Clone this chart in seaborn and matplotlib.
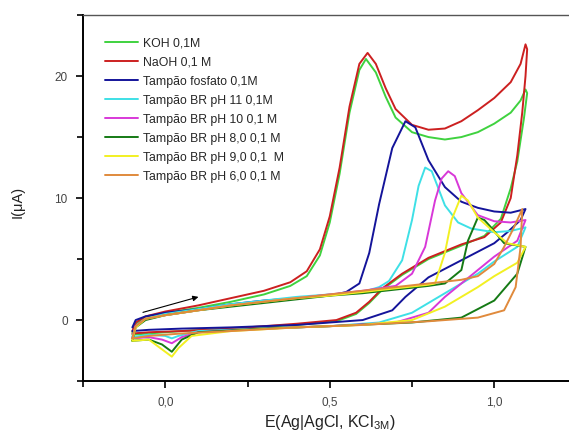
import numpy as np
import pandas as pd
import matplotlib
matplotlib.use("Agg")
import matplotlib.pyplot as plt
from matplotlib.ticker import MultipleLocator, FuncFormatter
import seaborn as sns

# cyclic voltammograms: forward scan then reverse scan
koh_E = [-0.10, -0.09, -0.06, 0.0, 0.1, 0.2, 0.3, 0.38, 0.43, 0.47, 0.50, 0.53, 0.56, 0.59, 0.61,
         0.64, 0.67, 0.70, 0.75, 0.80, 0.85, 0.90, 0.95, 1.00, 1.05, 1.08, 1.095, 1.10,
         1.09, 1.07, 1.05, 1.02, 0.97, 0.90, 0.80, 0.72, 0.66, 0.62, 0.58, 0.52, 0.4, 0.2, 0.05, -0.05, -0.10]
koh_I = [-1.0, -0.3, 0.2, 0.6, 1.0, 1.5, 2.1, 2.8, 3.6, 5.3, 8.0, 12.0, 17.0, 20.5, 21.4,
         20.3, 18.3, 16.6, 15.4, 15.0, 14.8, 15.0, 15.4, 16.1, 17.0, 18.0, 18.9, 18.6,
         16.5, 13.0, 10.8, 8.3, 6.9, 6.1, 5.0, 3.7, 2.5, 1.4, 0.5, -0.1, -0.4, -0.7, -0.9, -1.1, -1.2]

naoh_E = [-0.10, -0.09, -0.06, 0.0, 0.1, 0.2, 0.3, 0.38, 0.43, 0.47, 0.50, 0.53, 0.56, 0.59, 0.615,
          0.64, 0.67, 0.70, 0.75, 0.80, 0.85, 0.90, 0.95, 1.00, 1.05, 1.08, 1.095, 1.10,
          1.095, 1.085, 1.07, 1.05, 1.02, 0.97, 0.90, 0.80, 0.72, 0.66, 0.62, 0.58, 0.52, 0.4, 0.2, 0.05, -0.05, -0.10]
naoh_I = [-0.9, -0.2, 0.3, 0.7, 1.2, 1.8, 2.4, 3.1, 4.0, 5.8, 8.5, 12.5, 17.5, 21.0, 21.9,
          21.0, 19.0, 17.3, 16.0, 15.6, 15.7, 16.3, 17.2, 18.2, 19.5, 21.0, 22.6, 22.2,
          20.0, 17.0, 13.5, 10.0, 8.0, 6.8, 6.2, 5.1, 3.8, 2.6, 1.5, 0.6, 0.0, -0.3, -0.7, -0.9, -1.0, -1.1]

fosfato_E = [-0.10, -0.09, -0.06, 0.0, 0.1, 0.2, 0.3, 0.4, 0.5, 0.55, 0.59, 0.62, 0.65, 0.69, 0.73,
             0.76, 0.80, 0.85, 0.90, 0.95, 1.00, 1.05, 1.095,
             1.08, 1.04, 1.00, 0.90, 0.80, 0.73, 0.69, 0.60, 0.4, 0.2, 0.05, -0.05, -0.10]
fosfato_I = [-0.6, 0.0, 0.3, 0.6, 0.9, 1.3, 1.6, 1.8, 2.0, 2.3, 3.0, 5.5, 9.5, 14.1, 16.3,
             15.8, 13.1, 10.9, 9.7, 9.2, 8.9, 8.8, 9.1,
             8.2, 7.2, 6.3, 4.9, 3.5, 1.9, 0.8, 0.0, -0.4, -0.6, -0.7, -0.8, -0.9]

ph11_E = [-0.10, -0.09, -0.06, 0.0, 0.1, 0.2, 0.3, 0.4, 0.5, 0.6, 0.65, 0.68, 0.72, 0.75, 0.77, 0.79,
          0.81, 0.85, 0.89, 0.93, 1.00, 1.05, 1.095,
          1.07, 1.00, 0.95, 0.85, 0.75, 0.65, 0.5, 0.3, 0.1, 0.04, 0.02, 0.0, -0.05, -0.10]
ph11_I = [-1.4, -0.5, 0.1, 0.5, 0.9, 1.3, 1.6, 1.9, 2.1, 2.3, 2.7, 3.2, 4.9, 8.2, 11.0, 12.5,
          12.2, 9.4, 8.0, 7.5, 7.2, 7.3, 7.6,
          6.0, 4.8, 3.8, 2.2, 0.6, -0.2, -0.5, -0.7, -0.9, -1.3, -1.5, -1.3, -1.2, -1.4]

ph10_E = [-0.10, -0.09, -0.06, 0.0, 0.1, 0.2, 0.3, 0.4, 0.5, 0.6, 0.7, 0.75, 0.79, 0.82, 0.84, 0.86,
          0.88, 0.90, 0.95, 1.00, 1.05, 1.095,
          1.07, 1.00, 0.95, 0.85, 0.80, 0.7, 0.5, 0.3, 0.1, 0.05, 0.02, -0.01, -0.05, -0.10]
ph10_I = [-1.5, -0.5, 0.1, 0.4, 0.8, 1.2, 1.5, 1.8, 2.1, 2.4, 2.8, 3.8, 6.0, 9.8, 11.6, 12.2,
          11.8, 10.4, 8.6, 8.1, 8.0, 8.2,
          6.5, 5.2, 4.1, 1.9, 0.6, -0.2, -0.5, -0.7, -1.0, -1.4, -1.9, -1.6, -1.4, -1.5]

ph8_E = [-0.10, -0.09, -0.06, 0.0, 0.1, 0.2, 0.3, 0.4, 0.5, 0.6, 0.7, 0.8, 0.85, 0.90, 0.92, 0.95,
         0.97, 0.99, 1.03, 1.095,
         1.07, 1.00, 0.90, 0.75, 0.5, 0.3, 0.1, 0.05, 0.02, -0.01, -0.05, -0.10]
ph8_I = [-1.7, -0.6, 0.0, 0.4, 0.8, 1.1, 1.4, 1.7, 2.0, 2.2, 2.5, 2.8, 3.0, 4.1, 6.5, 8.4,
         8.2, 7.6, 6.3, 6.0,
         3.8, 1.6, 0.2, -0.2, -0.5, -0.7, -1.0, -1.6, -2.6, -2.0, -1.6, -1.7]

ph9_E = [-0.10, -0.09, -0.06, 0.0, 0.1, 0.2, 0.3, 0.4, 0.5, 0.6, 0.7, 0.8, 0.82, 0.85, 0.87, 0.90,
         0.92, 0.95, 1.00, 1.04, 1.095,
         1.07, 1.00, 0.95, 0.85, 0.75, 0.6, 0.4, 0.2, 0.08, 0.04, 0.02, -0.01, -0.05, -0.10]
ph9_I = [-1.6, -0.6, 0.1, 0.4, 0.8, 1.2, 1.5, 1.8, 2.0, 2.3, 2.6, 2.9, 3.0, 5.5, 8.2, 10.2,
         9.8, 8.4, 7.2, 6.3, 6.0,
         4.7, 3.6, 2.7, 1.1, 0.0, -0.4, -0.6, -0.9, -1.3, -2.3, -3.0, -2.4, -1.6, -1.7]

ph6_E = [-0.10, -0.09, -0.06, 0.0, 0.1, 0.2, 0.3, 0.4, 0.5, 0.6, 0.7, 0.8, 0.9, 0.95, 1.00, 1.03,
         1.06, 1.085,
         1.08, 1.065, 1.03, 0.95, 0.8, 0.6, 0.4, 0.2, 0.05, -0.05, -0.10]
ph6_I = [-1.5, -0.5, 0.1, 0.4, 0.8, 1.2, 1.5, 1.8, 2.1, 2.4, 2.7, 3.0, 3.3, 3.6, 4.6, 6.0,
         7.6, 9.1,
         6.0, 2.7, 0.8, 0.2, -0.1, -0.4, -0.6, -0.9, -1.1, -1.3, -1.5]

labels = ["KOH 0,1M", "NaOH 0,1 M", "Tampão fosfato 0,1M", "Tampão BR pH 11 0,1M",
          "Tampão BR pH 10 0,1 M", "Tampão BR pH 8,0 0,1 M", "Tampão BR pH 9,0 0,1  M",
          "Tampão BR pH 6,0 0,1 M"]
colors = ["#3fd23f", "#cc2020", "#14149a", "#3ee0e6", "#d838d8", "#157a15", "#f2f022", "#e08a3c"]

curves = [(koh_E, koh_I), (naoh_E, naoh_I), (fosfato_E, fosfato_I), (ph11_E, ph11_I),
          (ph10_E, ph10_I), (ph8_E, ph8_I), (ph9_E, ph9_I), (ph6_E, ph6_I)]

frames = []
for lab, (E, I) in zip(labels, curves):
    frames.append(pd.DataFrame({"E": E, "I": I, "sol": lab, "step": np.arange(len(E))}))
df = pd.concat(frames, ignore_index=True)

sns.set_style("ticks")
plt.rcParams["font.family"] = ["Liberation Sans", "DejaVu Sans"]

fig = plt.figure(figsize=(5.69, 4.38), dpi=100)
ax = fig.add_axes([0.1459, 0.130, 0.8673, 0.8356])

sns.lineplot(data=df, x="E", y="I", hue="sol", hue_order=labels, palette=colors,
             sort=False, estimator=None, linewidth=1.4, ax=ax)

# scan direction arrow
ax.annotate("", xy=(0.109, 1.96), xytext=(-0.076, 0.57),
            arrowprops=dict(arrowstyle="-|>", color="black", lw=0.8, mutation_scale=8))

ax.set_xlim(-0.25, 1.25)
ax.set_ylim(-5, 25)
ax.xaxis.set_major_locator(MultipleLocator(0.5))
ax.xaxis.set_minor_locator(MultipleLocator(0.25))
ax.yaxis.set_major_locator(MultipleLocator(10))
ax.yaxis.set_minor_locator(MultipleLocator(5))
ax.xaxis.set_major_formatter(FuncFormatter(lambda v, p: f"{v:.1f}".replace(".", ",")))
ax.yaxis.set_major_formatter(FuncFormatter(lambda v, p: f"{v:.0f}"))

ax.tick_params(which="both", direction="out", width=1.2, color="black",
               labelsize=8.5, labelcolor="#444444", top=False, right=False)
ax.tick_params(which="major", length=5, pad=6)
ax.tick_params(which="minor", length=4)

for s in ["left", "bottom"]:
    ax.spines[s].set_linewidth(1.4)
    ax.spines[s].set_color("black")
ax.spines["top"].set_linewidth(1.0)
ax.spines["top"].set_color("#555555")
ax.spines["right"].set_visible(True)

ax.set_xlabel(r"E(Ag|AgCl, KCl$_{\mathregular{3M}}$)", fontsize=11.5, color="#222222", labelpad=3)
ax.set_ylabel("I(μA)", fontsize=10.5, color="#222222")
ax.yaxis.set_label_coords(-0.118, 0.49)

ax.legend(loc="upper left", bbox_to_anchor=(0.045, 0.938), frameon=False, fontsize=8.8,
          handlelength=2.7, handletextpad=0.35, labelspacing=0.57, borderpad=0, borderaxespad=0)

fig.savefig("out.png", dpi=100)
